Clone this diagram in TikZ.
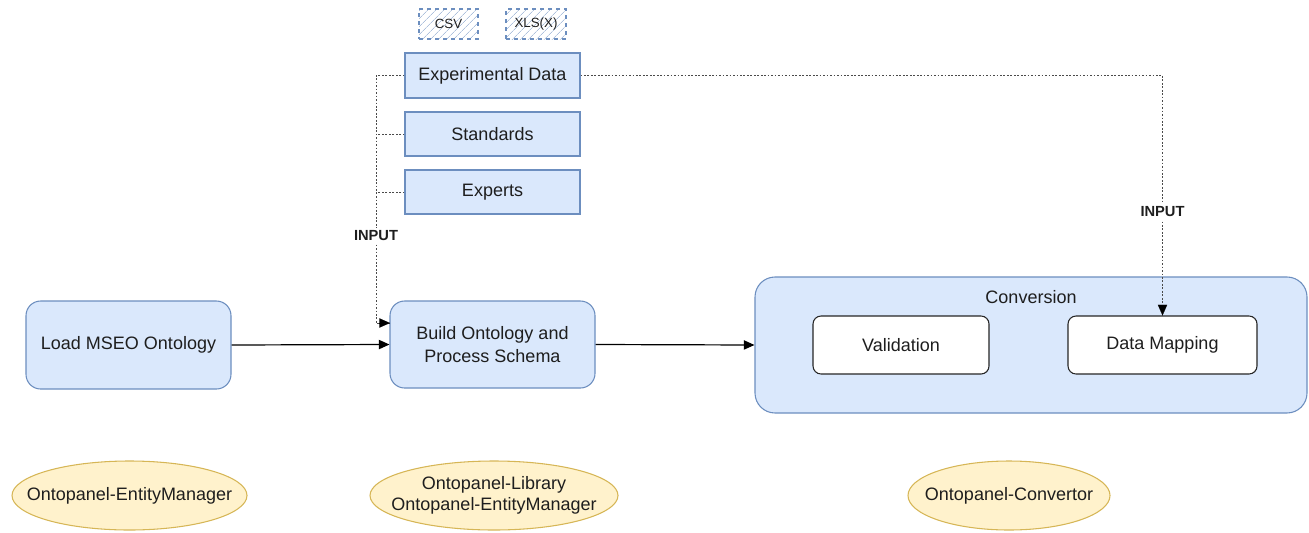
\documentclass[tikz,border=0pt]{standalone}
\usepackage{fontspec}
\setmainfont{Liberation Sans}
\usetikzlibrary{arrows.meta,patterns.meta}
\definecolor{bfill}{HTML}{DAE8FC}
\definecolor{bline}{HTML}{6C8EBF}
\definecolor{yfill}{HTML}{FFF2CC}
\definecolor{yline}{HTML}{D6B656}
\definecolor{txt}{HTML}{1E1E1E}
\definecolor{dotc}{HTML}{4A4A4A}
\tikzset{
  every node/.style={text=txt, font=\fontsize{13.5}{16}\selectfont, inner sep=0pt, align=center},
  bluebox/.style={draw=bline, fill=bfill, line width=0.8pt, rounded corners=11pt},
  srcbox/.style={draw=bline, fill=bfill, line width=0.8pt},
  filebox/.style={draw=bline, dashed, line width=0.8pt, pattern={Lines[angle=45,distance=4pt,line width=0.5pt]}, pattern color=bline!55, font=\fontsize{10}{12}\selectfont},
  whitebox/.style={draw=black!85, fill=white, line width=0.8pt, rounded corners=6pt},
  toolshape/.style={draw=yline, fill=yfill, line width=0.8pt},
  flow/.style={line width=0.9pt, black, -{Triangle[length=8pt,width=7pt]}},
  dotflow/.style={line width=0.75pt, dotc, dash pattern=on 1.3pt off 1.3pt},
  headonly/.style={black, -{Triangle[length=8pt,width=7pt]}, line width=0.1pt},
  lbl/.style={fill=white, font=\bfseries\fontsize{11}{13}\selectfont, inner sep=2pt}
}
\begin{document}
\begin{tikzpicture}[x=0.75pt,y=-0.75pt]
\useasboundingbox (0,0) rectangle (1309,532);
% top file types
\node[filebox, minimum width=44.25pt, minimum height=22.5pt] (csv) at (448.5,24) {CSV};
\node[filebox, minimum width=45pt, minimum height=22.5pt] (xls) at (536,24) {XLS(X)};
% sources
\node[srcbox, minimum width=131.25pt, minimum height=33.75pt] (exp) at (492.5,75.5) {Experimental Data};
\node[srcbox, minimum width=131.25pt, minimum height=33pt] (std) at (492.5,134) {Standards};
\node[srcbox, minimum width=131.25pt, minimum height=33pt] (expt) at (492.5,192) {Experts};
% main flow
\node[bluebox, minimum width=153.75pt, minimum height=66pt] (load) at (128.5,345) {Load MSEO Ontology};
\node[bluebox, minimum width=153.75pt, minimum height=65.25pt] (build) at (492.5,344.5) {Build Ontology and\\[1pt]Process Schema};
\node[bluebox, rounded corners=15pt, minimum width=414pt, minimum height=102pt] (conv) at (1031,345) {};
\node (convt) at (1031,297) {Conversion};
\node[whitebox, minimum width=132pt, minimum height=43.5pt] (val) at (901,345) {Validation};
\node[whitebox, minimum width=141.75pt, minimum height=43.5pt] (dm) at (1162.5,345) {Data Mapping};
% tools
\path[toolshape] (129.5,495.5) ellipse [x radius=88.125pt, y radius=25.875pt];
\node (em) at (129.5,495.5) {Ontopanel-EntityManager};
\path[toolshape] (494,495.5) ellipse [x radius=93pt, y radius=25.875pt];
\node (lib) at (494,495.5) {Ontopanel-Library\\Ontopanel-EntityManager};
\path[toolshape] (1009,495.5) ellipse [x radius=75.75pt, y radius=25.875pt];
\node (cvt) at (1009,495.5) {Ontopanel-Convertor};
% connectors
\draw[flow] (load.east) -- (build.west);
\draw[flow] (build.east) -- (conv.west);
\coordinate (bus) at (376,75.5);
\coordinate (buildin) at (390,323);
\draw[dotflow] (exp.west) -- (bus) |- node[lbl, pos=0.324] {INPUT} (buildin);
\draw[headonly] ([xshift=-6pt]buildin) -- (buildin);
\draw[dotflow] (std.west) -- (std.west -| bus);
\draw[dotflow] (expt.west) -- (expt.west -| bus);
\draw[dotflow] (exp.east) -| node[lbl, pos=0.784] {INPUT} (dm.north);
\draw[headonly] ([yshift=6pt]dm.north) -- (dm.north);
\end{tikzpicture}
\end{document}
